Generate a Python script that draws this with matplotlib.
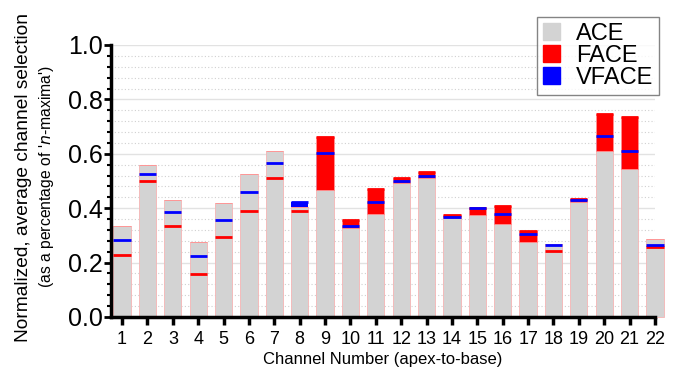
import numpy as np
import matplotlib
matplotlib.use("Agg")
import matplotlib.pyplot as plt
from matplotlib.patches import Patch
from matplotlib.ticker import MultipleLocator

plt.rcParams["font.family"] = ["Liberation Sans", "DejaVu Sans"]

channels = list(range(1, 23))
ace = [0.335, 0.560, 0.431, 0.275, 0.418, 0.525, 0.611, 0.403, 0.468, 0.326, 0.380,
       0.494, 0.512, 0.363, 0.375, 0.342, 0.277, 0.268, 0.423, 0.611, 0.544, 0.288]
face = [0.227, 0.501, 0.335, 0.158, 0.293, 0.390, 0.510, 0.391, 0.662, 0.358, 0.471,
        0.510, 0.534, 0.376, 0.402, 0.406, 0.316, 0.244, 0.433, 0.746, 0.734, 0.257]
vface = [0.284, 0.525, 0.385, 0.223, 0.358, 0.460, 0.565, 0.424, 0.604, 0.333, 0.424,
         0.501, 0.518, 0.367, 0.399, 0.379, 0.304, 0.264, 0.430, 0.665, 0.610, 0.265]

x = np.array(channels)
a = np.array(ace); f = np.array(face); v = np.array(vface)
w = 0.68

fig = plt.figure(figsize=(6.78, 3.75), dpi=100)
ax = fig.add_axes([0.164, 0.155, 0.802, 0.725])

# grid
ax.yaxis.set_major_locator(MultipleLocator(0.2))
ax.yaxis.set_minor_locator(MultipleLocator(0.04))
ax.grid(axis="y", which="major", color="#e2e2e2", lw=1.0, zorder=0)
ax.grid(axis="y", which="minor", color="#d0d0d0", lw=0.8, ls=(0, (1, 2)), zorder=0)
ax.set_axisbelow(True)

# ACE grey bars
ax.bar(x, a, width=w, color="#d3d3d3", edgecolor="#f6b4b4", lw=0.6, zorder=2,
       clip_on=False)
# parts above ACE
vb = np.where(v > a, v - a, 0)
ax.bar(x, vb, width=w, bottom=a, color="#0000ff", lw=0, zorder=3, clip_on=False)
fb = np.where(f > a, f - a, 0)
ax.bar(x, fb, width=w, bottom=a, color="#ff0000", edgecolor="#ff9090", lw=0.6,
       zorder=4, clip_on=False)
# value markers
ax.hlines(f, x - w / 2, x + w / 2, color="#ff0000", lw=2.0, zorder=5, clip_on=False)
ax.hlines(v, x - w / 2, x + w / 2, color="#0000ff", lw=2.0, zorder=6, clip_on=False)

ax.set_xlim(0.57, 22)
ax.set_ylim(0, 1.0)
ax.set_xticks(channels)
ax.set_xticklabels([str(c) for c in channels], fontsize=13)
ax.set_yticks([0.0, 0.2, 0.4, 0.6, 0.8, 1.0])
ax.set_yticklabels(["0.0", "0.2", "0.4", "0.6", "0.8", "1.0"], fontsize=18)

for s in ("top", "right"):
    ax.spines[s].set_visible(False)
for s in ("left", "bottom"):
    ax.spines[s].set_linewidth(2.5)
    ax.spines[s].set_zorder(7)
ax.tick_params(axis="x", which="major", length=6, width=2.5, pad=4)
ax.tick_params(axis="y", which="major", length=5, width=2, pad=1)
ax.tick_params(axis="y", which="minor", length=3, width=1.5)

ax.set_xlabel("Channel Number (apex-to-base)", fontsize=12)
ax.xaxis.set_label_coords(0.5, -0.129)
fig.text(0.034, 0.528, "Normalized, average channel selection", rotation=90,
         fontsize=13.8, ha="center", va="center")
fig.text(0.069, 0.528, "(as a percentage of '$\\it{n}$-maxima')", rotation=90,
         fontsize=11.3, ha="center", va="center")

handles = [Patch(color="#d3d3d3", label="ACE"), Patch(color="#ff0000", label="FACE"),
           Patch(color="#0000ff", label="VFACE")]
leg = fig.legend(handles=handles, loc="upper right", bbox_to_anchor=(0.972, 0.955),
                 fontsize=17, frameon=True, fancybox=False, handlelength=0.7,
                 handleheight=0.75, handletextpad=0.68, labelspacing=0.0,
                 borderpad=0.25, borderaxespad=0)
leg.get_frame().set_edgecolor("#666666")
leg.get_frame().set_linewidth(1.0)

fig.savefig("out.png", dpi=100)
